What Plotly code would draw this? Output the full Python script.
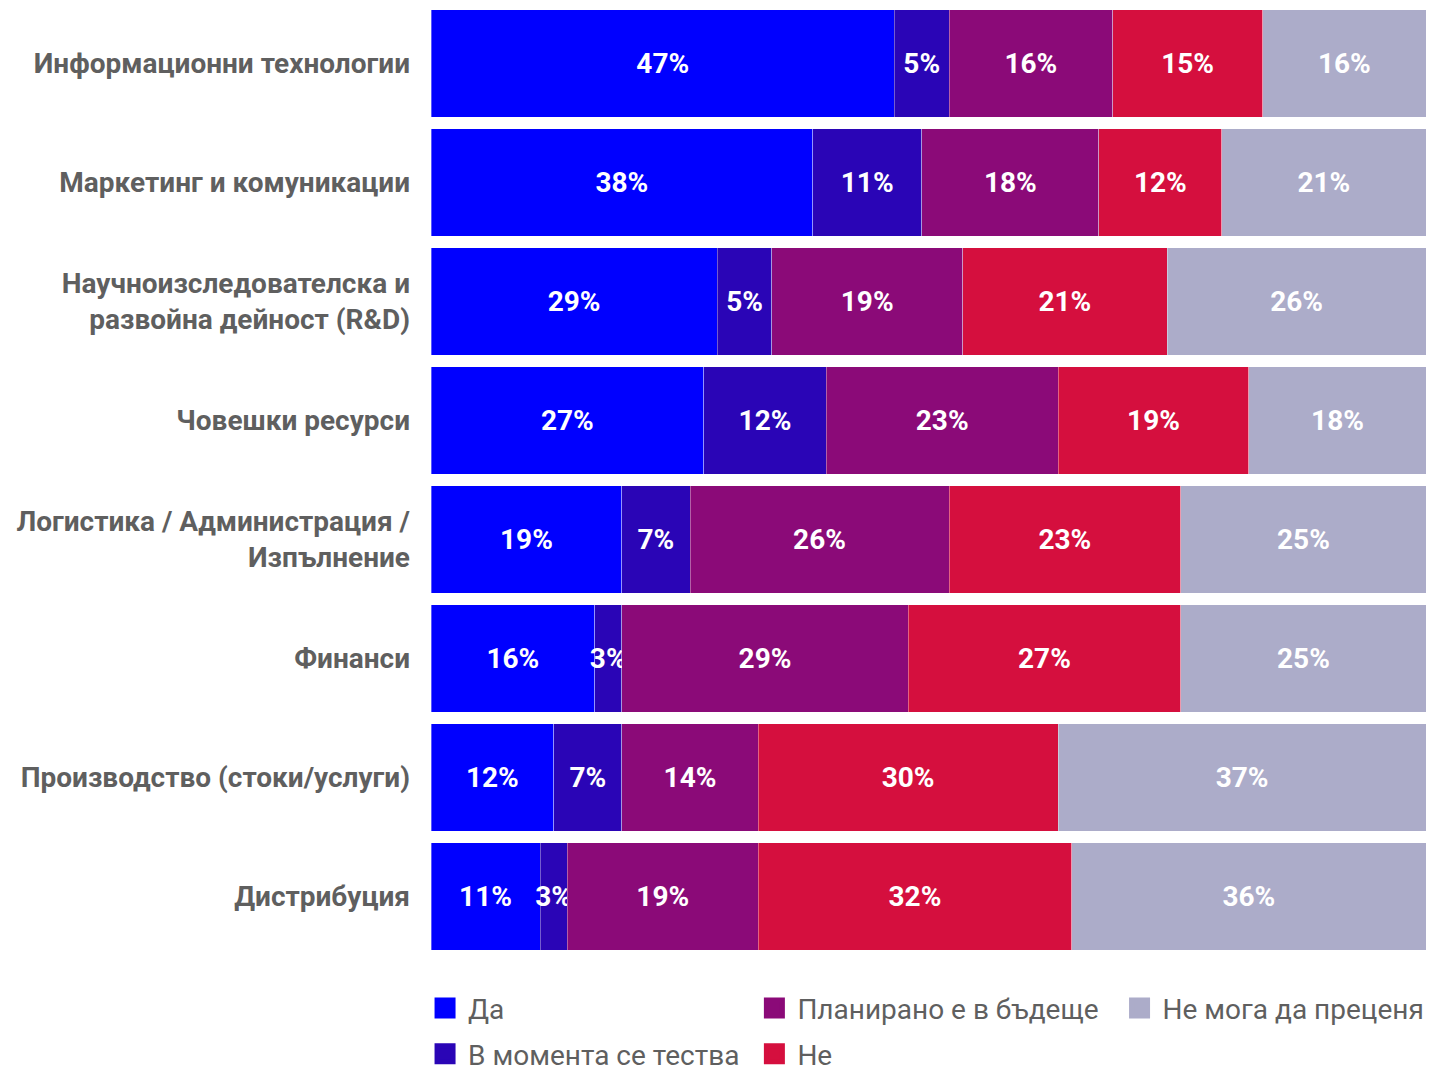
import plotly.graph_objects as go

categories = [
    "Информационни технологии",
    "Маркетинг и комуникации",
    "Научноизследователска и<br>развойна дейност (R&D)",
    "Човешки ресурси",
    "Логистика / Администрация /<br>Изпълнение",
    "Финанси",
    "Производство (стоки/услуги)",
    "Дистрибуция",
]

series_names = ["Да", "В момента се тества", "Планирано е в бъдеще", "Не", "Не мога да преценя"]
colors = ["#0000FF", "#2A05B6", "#8B0A78", "#D50F3E", "#ACACC9"]

# percentage shares
da = [46.58, 38.36, 28.77, 27.40, 19.18, 16.44, 12.33, 10.96]
testing = [5.48, 10.96, 5.48, 12.33, 6.85, 2.74, 6.85, 2.74]
planned = [16.44, 17.81, 19.18, 23.29, 26.03, 28.77, 13.70, 19.18]
ne = [15.07, 12.33, 20.55, 19.18, 23.29, 27.40, 30.14, 31.51]
unsure = [16.44, 20.55, 26.03, 17.81, 24.66, 24.66, 36.99, 35.62]

series_values = [da, testing, planned, ne, unsure]

FONT = "Roboto"
GRAY = "#5f5f5f"
FS = 28

fig = go.Figure()
for name, vals, col in zip(series_names, series_values, colors):
    fig.add_trace(go.Bar(
        y=categories, x=vals, orientation="h", name=name,
        marker=dict(color=col, line=dict(color="rgba(255,255,255,0.35)", width=1)),
        text=[f"{round(v)}%" for v in vals],
        textposition="inside", insidetextanchor="middle", textangle=0,
        constraintext="none",
        textfont=dict(family=FONT, size=FS, color="white", weight="bold"),
        showlegend=False, hoverinfo="skip",
    ))

# legend entries (column-major placement like the original)
legend_pos = {
    "Да": ("legend", -0.009, -0.055),
    "В момента се тества": ("legend2", -0.009, -0.103),
    "Планирано е в бъдеще": ("legend3", 0.322, -0.055),
    "Не": ("legend4", 0.322, -0.103),
    "Не мога да преценя": ("legend5", 0.689, -0.055),
}
for name, col in zip(series_names, colors):
    lg = legend_pos[name][0]
    fig.add_trace(go.Scatter(
        x=[None], y=[None], mode="markers", name=name,
        marker=dict(symbol="square", size=26, color=col, line=dict(color=col, width=5)),
        legend=lg, showlegend=True,
    ))

layout_legends = {}
for name, (lg, lx, ly) in legend_pos.items():
    layout_legends[lg] = dict(
        x=lx, y=ly, xanchor="left", yanchor="middle",
        font=dict(family=FONT, size=FS, color=GRAY),
        bgcolor="rgba(0,0,0,0)", itemsizing="trace", itemwidth=36,
    )

fig.update_layout(
    width=1429, height=1074,
    barmode="stack", bargap=0.1,
    plot_bgcolor="white", paper_bgcolor="white",
    margin=dict(l=431, r=3, t=4, b=118, autoexpand=False),
    font=dict(family=FONT),
    xaxis=dict(range=[0, 100], visible=False, fixedrange=True),
    yaxis=dict(
        autorange="reversed", showgrid=False, zeroline=False, showline=False,
        ticks="", ticklabelstandoff=20, fixedrange=True,
        tickfont=dict(family=FONT, size=FS, color=GRAY, weight="bold"),
    ),
    **layout_legends,
)

fig.write_html(
    "out.html",
    config={"displayModeBar": False},
    post_script="document.body.style.margin='0';document.body.style.overflow='hidden';",
)
